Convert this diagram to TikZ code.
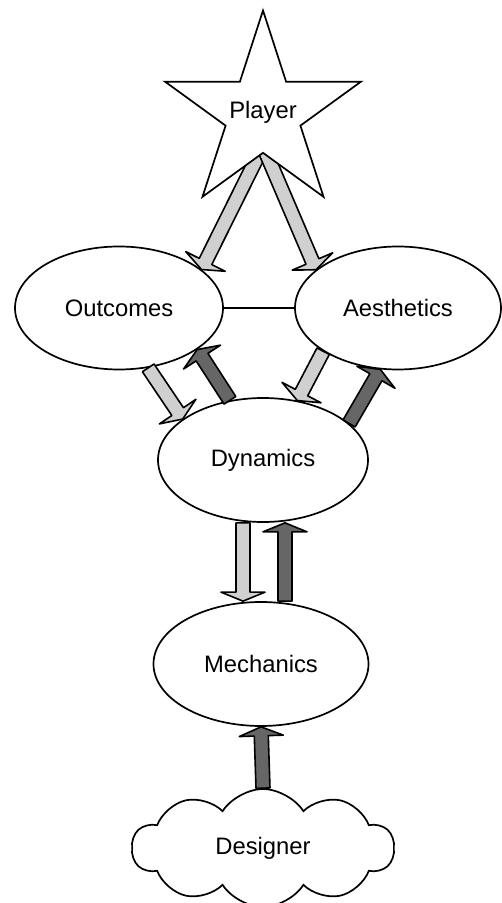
\documentclass[tikz,border=0pt]{standalone}
\usepackage{fontspec}
\setmainfont{Liberation Sans}
\usetikzlibrary{shapes.geometric,shapes.symbols,calc,backgrounds}
\definecolor{arrowLight}{RGB}{208,208,208}
\definecolor{arrowDark}{RGB}{102,102,102}

% wide flat-headed arrow from #2 to #3, filled with #1
\newcommand{\fatarrow}[3]{%
  \coordinate (fa-s) at (#2);
  \coordinate (fa-t) at (#3);
  \coordinate (fa-h) at ($(fa-t)!9pt!(fa-s)$);
  \filldraw[fill=#1, draw=black, line width=1.6pt, line join=round]
    ($(fa-s)!7pt!90:(fa-t)$) -- ($(fa-h)!7pt!90:(fa-t)$) -- ($(fa-h)!22pt!90:(fa-t)$)
    -- (fa-t) -- ($(fa-h)!22pt!-90:(fa-t)$) -- ($(fa-h)!7pt!-90:(fa-t)$)
    -- ($(fa-s)!7pt!-90:(fa-t)$) -- cycle;
}

\tikzset{
  blob/.style={ellipse, draw, line width=1.7pt, fill=white, inner sep=0pt},
}

\begin{document}
\begin{tikzpicture}[x=1pt, y=1pt, font=\fontsize{23.8}{28}\selectfont]
  \useasboundingbox (0,0) rectangle (502,903);

  \node[star, star points=5, star point ratio=2.62, minimum size=206pt,
        draw, line width=1.7pt, fill=white, inner sep=0pt,
        label={[yshift=1pt]center:Player}] (player) at (263,789.5) {};

  \node[blob, minimum width=208pt, minimum height=123pt] (outc) at (119,595) {Outcomes};
  \node[blob, minimum width=206pt, minimum height=123pt] (aes) at (398,595) {Aesthetics};
  \node[blob, minimum width=210pt, minimum height=124pt] (dyn) at (263,443) {Dynamics};
  \node[blob, minimum width=215pt, minimum height=124pt] (mech) at (261,239) {Mechanics};
  \node[cloud, cloud puffs=10, cloud puff arc=115, aspect=2.2, draw, line width=1.7pt,
        minimum width=262pt, minimum height=118pt, inner sep=0pt] (designer) at (263,55) {Designer};

  % arrows leaving the star
  \begin{pgfonlayer}{background}
    \fatarrow{arrowLight}{[yshift=8pt]player.-90}{outc.25}
    \fatarrow{arrowLight}{[yshift=8pt]player.-90}{aes.155}
  \end{pgfonlayer}

  \draw[line width=1.6pt] (outc.east) -- (aes.west);

  % arrows round dynamics
  \fatarrow{arrowLight}{outc.-64}{dyn.153}
  \fatarrow{arrowDark}{dyn.119}{outc.-28}
  \fatarrow{arrowLight}{aes.-150}{dyn.60}
  \fatarrow{arrowDark}{dyn.23}{aes.-106}
  \fatarrow{arrowLight}{[xshift=-20pt]dyn.south}{[xshift=-18pt]mech.north}
  \fatarrow{arrowDark}{[xshift=24pt]mech.north}{[xshift=22pt]dyn.south}
  \fatarrow{arrowDark}{designer.north}{mech.south}
\end{tikzpicture}
\end{document}
